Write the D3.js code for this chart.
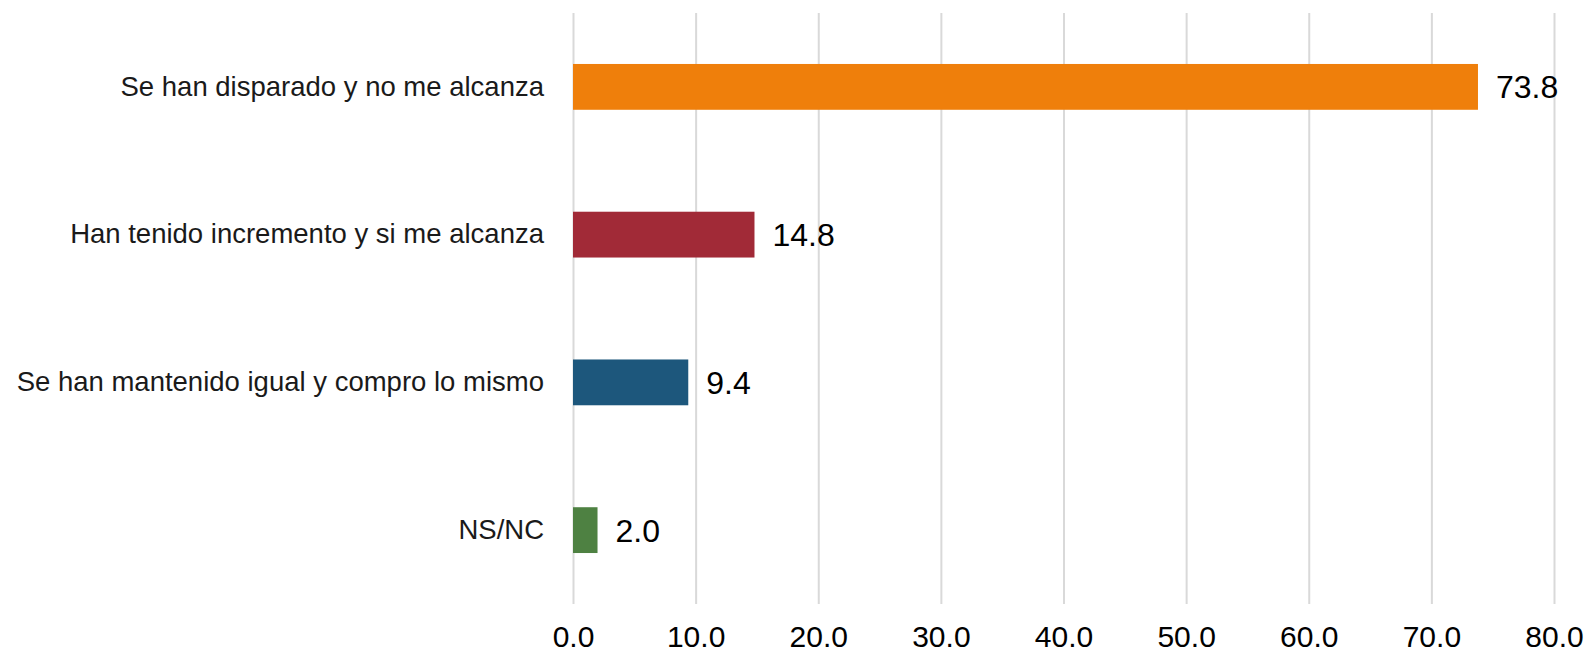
<!DOCTYPE html>
<html>
<head>
<meta charset="utf-8">
<script src="https://cdn.jsdelivr.net/npm/d3@7"></script>
<style>
  body { margin: 0; background: #fff; }
  svg { display: block; font-family: "Liberation Sans", Arial, sans-serif; }
  .axis path { display: none; }
  .axis line { stroke: #d9d9d9; stroke-width: 2; }
  .x-axis text { font-size: 30px; fill: #000; }
  .y-axis text { font-size: 27.5px; fill: #1a1a1a; }
</style>
</head>
<body>
<svg id="chart"></svg>
<script>
// answers, in the order they appear top to bottom
const categories = [
  "Se han disparado y no me alcanza",
  "Han tenido incremento y si me alcanza",
  "Se han mantenido igual y compro lo mismo",
  "NS/NC"
];
const values = [73.8, 14.8, 9.4, 2.0];
const barColors = ["#ef7f0b", "#a12a37", "#1d577c", "#4e8142"];
const xTicks = [0, 10, 20, 30, 40, 50, 60, 70, 80];

const width = 1589, height = 654;
const margin = {top: 13, right: 35, bottom: 50, left: 573};

const svg = d3.select("#chart")
  .attr("width", width)
  .attr("height", height);

const innerW = width - margin.left - margin.right;
const innerH = height - margin.top - margin.bottom;

const chart = svg.append("g")
  .attr("transform", `translate(${margin.left},${margin.top})`);

const xScale = d3.scaleLinear()
  .domain([0, 80])
  .range([0, innerW]);

// excel-style bands: each category gets an equal slice, bar sits in the middle
const yScale = d3.scaleBand()
  .domain(categories)
  .range([0, innerH])
  .paddingInner(0.69)
  .paddingOuter(0.345);

const color = d3.scaleOrdinal()
  .domain(categories)
  .range(barColors);

// vertical gridlines + tick labels at the bottom
const xAxis = d3.axisBottom(xScale)
  .tickValues(xTicks)
  .tickFormat(d3.format(".1f"))
  .tickSize(innerH)
  .tickPadding(37);

chart.append("g")
  .attr("class", "axis x-axis")
  .call(xAxis)
  .selectAll("text")
  .attr("dy", "0.2em");

const yAxis = d3.axisLeft(yScale)
  .tickSize(0)
  .tickPadding(29);

chart.append("g")
  .attr("class", "axis y-axis")
  .call(yAxis);

chart.selectAll("rect.bar")
  .data(values)
  .join("rect")
  .attr("class", "bar")
  .attr("x", xScale(0))
  .attr("y", (d, i) => yScale(categories[i]))
  .attr("width", d => xScale(d) - xScale(0))
  .attr("height", yScale.bandwidth())
  .attr("fill", (d, i) => color(categories[i]));

// value labels just right of each bar
chart.selectAll("text.value")
  .data(values)
  .join("text")
  .attr("class", "value")
  .attr("x", d => xScale(d) + 18)
  .attr("y", (d, i) => yScale(categories[i]) + yScale.bandwidth() / 2)
  .attr("dy", "0.36em")
  .attr("font-size", 32)
  .attr("fill", "#000")
  .text(d => d3.format(".1f")(d));
</script>
</body>
</html>
